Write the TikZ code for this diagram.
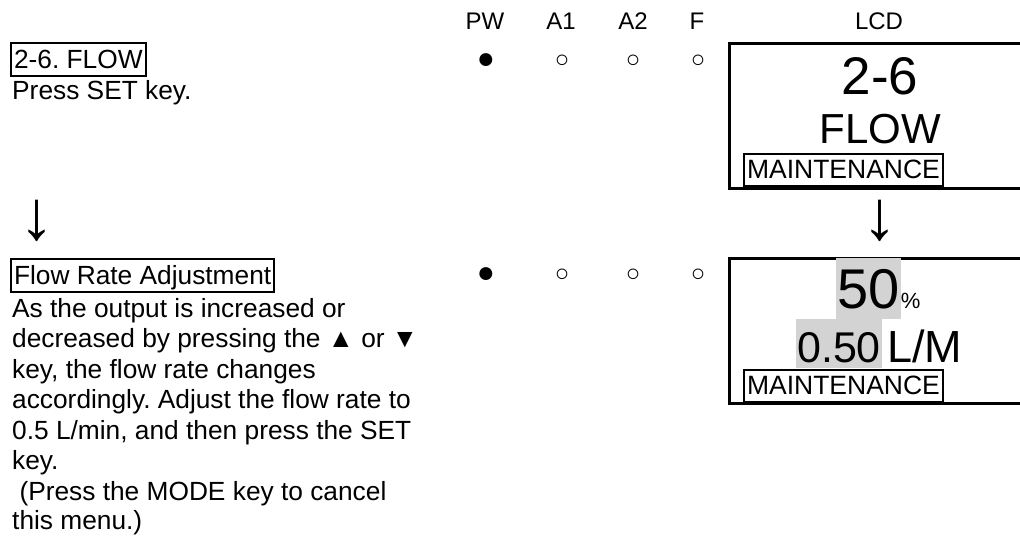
\documentclass[tikz,border=0pt]{standalone}
\usepackage{fontspec}
\setmainfont{Liberation Sans}
\frenchspacing
\definecolor{lcdgray}{RGB}{211,211,211}
\begin{document}
\begin{tikzpicture}[x=1pt,y=-1pt,
  txt/.style={anchor=base west, inner sep=0pt, font=\fontsize{26.3}{30}\selectfont},
  head/.style={anchor=base, inner sep=0pt, font=\fontsize{24}{28}\selectfont},
  titlebox/.style={draw, line width=2pt, anchor=base west, inner xsep=3pt, inner ysep=0pt,
     text height=25pt, text depth=8pt, font=\fontsize{26.3}{30}\selectfont},
  maint/.style={draw, line width=2pt, anchor=base west, inner xsep=3pt, inner ysep=0pt,
     text height=24pt, text depth=8pt, font=\fontsize{26.5}{30}\selectfont},
  lcdbox/.style={draw, line width=2.5pt, anchor=north west, inner sep=0pt, minimum width=320pt, minimum height=145pt},
  led/.style={anchor=center, inner sep=0pt, font=\fontsize{24}{28}\selectfont},
  ledon/.style={anchor=center, inner sep=0pt, font=\fontsize{30}{34}\selectfont},
  downarrow/.style={anchor=center, inner sep=0pt, font=\fontsize{70}{74}\selectfont},
  shade/.style={fill=lcdgray, anchor=base west, inner xsep=1pt, inner ysep=0pt}
]
\useasboundingbox (0,0) rectangle (1020,538);
\clip (0,0) rectangle (1020,538);

% header
\node[head] (hpw) at (485,29) {PW};
\node[head] (ha1) at (561,29) {A1};
\node[head] (ha2) at (633,29) {A2};
\node[head] (hf)  at (697,29) {F};
\node[head] (hlcd) at (879,29) {LCD};

% step 1
\node[titlebox] (t1) at (10,68) {2-6. FLOW};
\node[txt] (p1) at (12,99) {Press SET key.};

\node[ledon] (d1a) at (486,61) {●};
\node[led] (d1b) at (562,61) {○};
\node[led] (d1c) at (633,61) {○};
\node[led] (d1d) at (698,61) {○};

\node[lcdbox] (lcd1) at (728,42) {};
\node[anchor=base, inner sep=0pt, font=\fontsize{53}{56}\selectfont] (l1a) at (880,94) {2-6};
\node[anchor=base, inner sep=0pt, font=\fontsize{42}{46}\selectfont] (l1b) at (880,143) {FLOW};
\node[maint] (m1) at (743,178) {MAINTENANCE};

% arrows
\node[downarrow] (arl) at (37,221) {↓};
\node[downarrow] (arr) at (880,221) {↓};

% step 2
\node[titlebox] (t2) at (10,284) {Flow Rate Adjustment};
\node[txt] (q1) at (12,317) {As the output is increased or};
\node[txt] (q2) at (12,347.5) {decreased by pressing the ▲ or ▼};
\node[txt] (q3) at (12,378) {key, the flow rate changes};
\node[txt] (q4) at (12,408.5) {accordingly. Adjust the flow rate to};
\node[txt] (q5) at (12,439) {0.5 L/min, and then press the SET};
\node[txt] (q6) at (12,469.5) {key.};
\node[txt] (q7) at (12,500) {\ (Press the MODE key to cancel};
\node[txt] (q8) at (12,529) {this menu.)};

\node[ledon] (d2a) at (486,275) {●};
\node[led] (d2b) at (562,275) {○};
\node[led] (d2c) at (633,275) {○};
\node[led] (d2d) at (698,275) {○};

\node[lcdbox] (lcd2) at (728,257) {};
\node[shade, text height=50pt, text depth=11pt, font=\fontsize{56}{60}\selectfont] (l2a) at (836,308) {50};
\node[anchor=base west, inner sep=0pt, font=\fontsize{22}{26}\selectfont] (l2p) at (l2a.base east) {\%};
\node[shade, text height=43pt, text depth=6pt, font=\fontsize{43}{48}\selectfont] (l2b) at (796,362) {0.50};
\node[anchor=base west, inner sep=0pt, font=\fontsize{45}{48}\selectfont] (l2c) at (887,362) {L/M};
\node[maint] (m2) at (743,394) {MAINTENANCE};
\end{tikzpicture}
\end{document}
